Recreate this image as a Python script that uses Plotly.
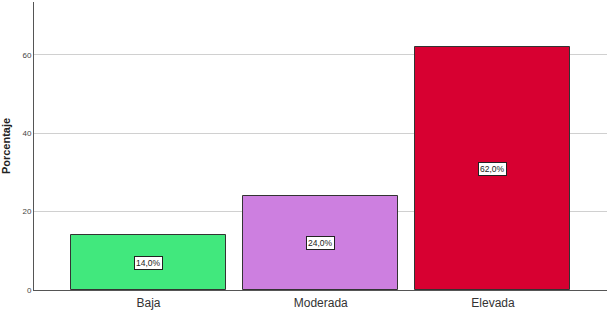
import plotly.graph_objects as go

categories = ["Baja", "Moderada", "Elevada"]
values = [14.0, 24.0, 62.0]
colors = ["#41E87D", "#CD7FE0", "#D70031"]
y_ticks = [0, 20, 40, 60]

fig = go.Figure()
fig.add_trace(go.Bar(
    x=list(range(len(categories))), y=values, width=0.9,
    marker=dict(color=colors, line=dict(color="#333333", width=1)),
    hoverinfo="skip",
))

for i, v in enumerate(values):
    fig.add_annotation(
        x=i, y=v / 2, text=f"{v:.1f}%".replace(".", ","),
        showarrow=False, bgcolor="white", bordercolor="#222222", borderwidth=1,
        borderpad=1, font=dict(family="Arial", size=8.5, color="#222222"),
    )

fig.update_layout(
    width=612, height=319,
    margin=dict(l=34, r=5, t=2, b=29),
    plot_bgcolor="white", paper_bgcolor="white",
    showlegend=False, bargap=0,
    xaxis=dict(
        range=[-0.665, 2.662], tickvals=list(range(len(categories))), ticktext=categories,
        showgrid=False, zeroline=False, showline=True, linecolor="#555555", linewidth=1,
        ticks="outside", ticklen=2, tickcolor="rgba(0,0,0,0)",
        tickfont=dict(family="Arial", size=12, color="#333333"),
    ),
    yaxis=dict(
        range=[0, 73.5], tickvals=y_ticks, showgrid=True, gridcolor="#D0D0D0", gridwidth=1,
        zeroline=False, showline=True, linecolor="#555555", linewidth=1, ticks="",
        tickfont=dict(family="Arial", size=8, color="#444444"),
        title=dict(text="<b>Porcentaje</b>", font=dict(family="Arial", size=11, color="#222222"), standoff=12),
    ),
)

fig.write_html("out.html")
